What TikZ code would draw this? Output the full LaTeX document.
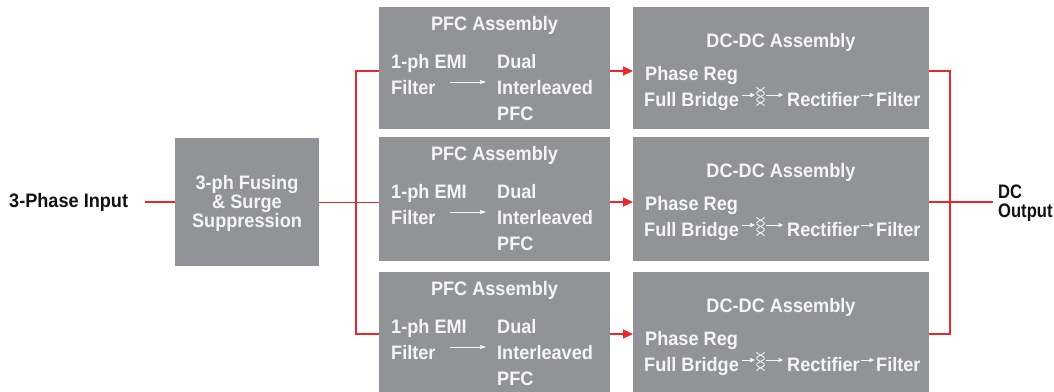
\documentclass[tikz,border=0pt]{standalone}
\usepackage{fontspec}
\setmainfont{Liberation Sans}[FakeStretch=0.93]
\newfontfamily\narrowfont{Liberation Sans}[FakeStretch=0.85]
\usetikzlibrary{arrows.meta}
\definecolor{boxgray}{HTML}{929397}
\definecolor{lred}{HTML}{E8282E}
\definecolor{wtxt}{HTML}{F5F5F5}
\definecolor{btxt}{HTML}{111111}
\newcommand\lblfont{\bfseries\fontsize{19.5}{23}\selectfont}
\newcommand\nlblfont{\narrowfont\bfseries\fontsize{19.5}{23}\selectfont}
\begin{document}
\begin{tikzpicture}[x=1pt,y=-1pt,
  box/.style={fill=boxgray, draw=none, inner sep=0pt, anchor=north west},
  wt/.style={text=wtxt, font=\lblfont, inner sep=0pt},
  bt/.style={text=btxt, font=\lblfont, inner sep=0pt},
  rline/.style={draw=lred, line width=1.1pt},
  rarr/.style={rline, -{Triangle[length=10pt,width=9pt]}},
  warr/.style={draw=wtxt, line width=0.7pt, -{Triangle[length=6pt,width=4pt]}},
  sarr/.style={draw=wtxt, line width=0.8pt, -{Triangle[length=4.5pt,width=4.5pt]}},
  xfline/.style={draw=wtxt, line width=0.85pt}]
\useasboundingbox (0,0) rectangle (1054,391);

% input and fusing
\node[bt, anchor=base west] (inp) at (9,207) {3-Phase Input};
\node[box, minimum width=144pt, minimum height=128pt] (fuse) at (175,138) {};
\node[wt, anchor=base] (fu1) at (247,189) {3-ph Fusing};
\node[wt, anchor=base] (fu2) at (247,208) {\& Surge};
\node[wt, anchor=base] (fu3) at (247,227) {Suppression};
\coordinate (inend) at (145,202);

% rows
\foreach \i/\T/\H in {1/7/122, 2/137/124, 3/272/122}{
  \node[box, minimum width=231pt, minimum height=\H pt] (pfc\i) at (379,\T) {};
  \node[box, minimum width=296pt, minimum height=\H pt] (dc\i) at (633,\T) {};
  % PFC texts
  \node[wt, anchor=base] (pt\i) at (494.5,\T+23) {PFC Assembly};
  \node[wt, anchor=base west] (em\i) at (391,\T+61) {1-ph EMI};
  \node[wt, anchor=base west] (fi\i) at (391,\T+87) {Filter};
  \node[wt, anchor=base west] (du\i) at (497,\T+61) {Dual};
  \node[wt, anchor=base west] (il\i) at (497,\T+87) {Interleaved};
  \node[wt, anchor=base west] (pf\i) at (497,\T+113) {PFC};
  \draw[warr] ([xshift=14pt,yshift=12pt]fi\i.base east) -- ([xshift=-11pt,yshift=12pt]il\i.base west);
  % DC-DC texts
  \node[wt, anchor=base] (dt\i) at (781,\T+40) {DC-DC Assembly};
  \node[wt, anchor=base west] (pr\i) at (645,\T+73) {Phase Reg};
  \node[wt, anchor=base west] (fb\i) at (644,\T+99) {Full Bridge};
  \node[inner sep=0pt, minimum width=9pt, minimum height=19pt] (xf\i) at (760.5,\T+88) {};
  \node[wt, anchor=base west] (rc\i) at (787,\T+99) {Rectifier};
  \node[wt, anchor=base west] (fl\i) at (876,\T+99) {Filter};
  \draw[xfline, shift={(xf\i.center)}] plot[domain=0:1, samples=40, smooth] ({3.8*sin(90+540*\x)}, {-8+19*\x});
  \draw[xfline, shift={(xf\i.center)}] plot[domain=0:1, samples=40, smooth] ({-3.8*sin(90+540*\x)}, {-8+19*\x});
  \draw[sarr] ([xshift=3pt,yshift=11pt]fb\i.base east) -- ([xshift=-1pt]xf\i.west);
  \draw[sarr] ([xshift=1pt]xf\i.east) -- ([xshift=-4pt,yshift=11pt]rc\i.base west);
  \draw[sarr] ([xshift=1pt,yshift=11pt]rc\i.base east) -- ([xshift=-2pt,yshift=11pt]fl\i.base west);
}

% red connectors
\coordinate (busT) at (356,71);
\coordinate (busB) at (356,334);
\coordinate (oT) at (950,71);
\coordinate (oM) at (950,202);
\coordinate (oB) at (950,334);
\coordinate (outend) at (993,202);
\draw[rline] (inend) -- (fuse.west |- inend);
\draw[rline] (fuse.east) -- (pfc2.west |- fuse.east);
\draw[rline] (pfc1.west |- busT) -- (busT) -- (busB) -- (pfc3.west |- busB);
\draw[rarr] (pfc1.east |- busT) -- (dc1.west |- busT);
\draw[rarr] (pfc2.east |- oM) -- (dc2.west |- oM);
\draw[rarr] (pfc3.east |- busB) -- (dc3.west |- busB);
\draw[rline] (dc1.east |- oT) -- (oT) -- (oB) -- (dc3.east |- oB);
\draw[rline] (dc2.east |- oM) -- (outend);

\node[bt, font=\nlblfont, anchor=base west] (dco1) at (998,198) {DC};
\node[bt, font=\nlblfont, anchor=base west] (dco2) at (998,217) {Output};
\end{tikzpicture}
\end{document}
